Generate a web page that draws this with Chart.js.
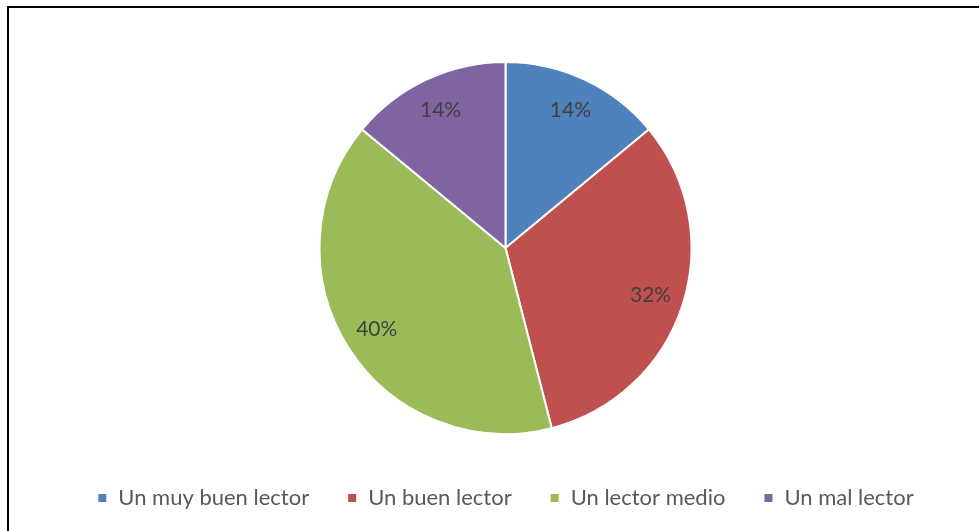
<!DOCTYPE html>
<html>
<head>
<meta charset="utf-8">
<script src="https://cdn.jsdelivr.net/npm/chart.js@4"></script>
<style>
  html, body { margin: 0; padding: 0; background: #fff; overflow: hidden; }
  #frame {
    position: absolute; left: 7px; top: 6px;
    width: 1000px; height: 600px;
    border: 2px solid #000; box-sizing: border-box;
  }
  #wrap { position: absolute; left: 0; top: 0; width: 979px; height: 531px; }
</style>
</head>
<body>
<div id="frame"></div>
<div id="wrap"><canvas id="myChart"></canvas></div>
<script>
// categories and values (percent)
const labels = ["Un muy buen lector", "Un buen lector", "Un lector medio", "Un mal lector"];
const values = [14, 32, 40, 14];
const colors = ["#4f81bd", "#c0504d", "#9bbb59", "#8064a2"];

//porcentajes dentro de cada porción
const pctLabels = {
  id: "pctLabels",
  afterDatasetsDraw: (chart) => {
    const ctx = chart.ctx;
    const meta = chart.getDatasetMeta(0);
    const total = values.reduce((a, b) => a + b, 0);
    ctx.save();
    ctx.fillStyle = "#404040";
    ctx.font = "21px Lato";
    ctx.textAlign = "center";
    ctx.textBaseline = "middle";
    meta.data.forEach((arc, i) => {
      const mid = (arc.startAngle + arc.endAngle) / 2;
      const r = arc.outerRadius * 0.82;
      const x = arc.x + Math.cos(mid) * r;
      const y = arc.y + Math.sin(mid) * r;
      ctx.fillText(Math.round(values[i] / total * 100) + "%", x, y);
    });
    ctx.restore();
  },
};

const data = {
  labels: labels,
  datasets: [{
    data: values,
    backgroundColor: colors,
    borderColor: "#ffffff",
    borderWidth: 2,
    radius: 186,
  }],
};

const config = {
  type: "pie",
  data: data,
  plugins: [pctLabels],
  options: {
    responsive: true,
    maintainAspectRatio: false,
    animation: false,
    layout: { padding: { top: 47, bottom: 12, left: 32 } },
    plugins: {
      tooltip: { enabled: false },
      legend: {
        position: "bottom",
        labels: {
          boxWidth: 10,
          boxHeight: 10,
          padding: 38,
          color: "#595959",
          font: { family: "Lato", size: 22 },
        },
      },
    },
  },
};
new Chart(document.getElementById("myChart"), config);
</script>
</body>
</html>
